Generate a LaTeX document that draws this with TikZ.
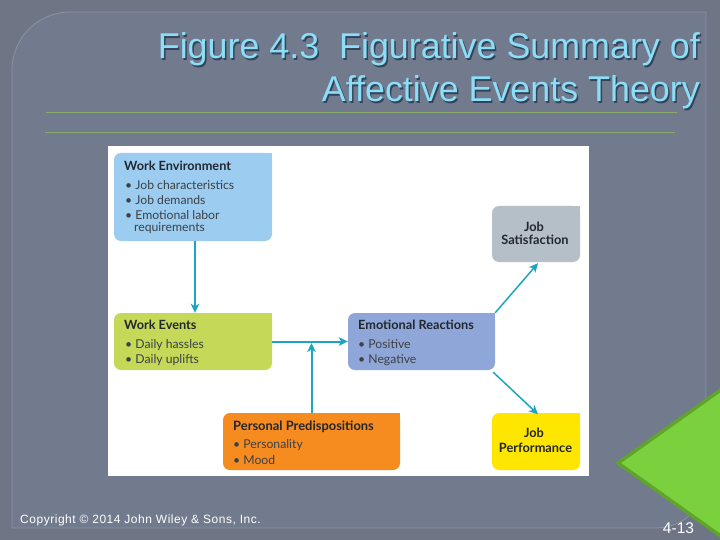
\documentclass[tikz,border=0pt]{standalone}
\usepackage{fontspec}
\setmainfont{Liberation Sans}
\newfontfamily\diag{Lato}
\definecolor{outerbg}{HTML}{6E7686}
\definecolor{innerbg}{HTML}{727B8D}
\definecolor{framec}{HTML}{8A92A4}
\definecolor{rulec}{HTML}{8CAA6C}
\definecolor{titlec}{HTML}{8CDDF6}
\definecolor{shadowc}{HTML}{33435A}
\definecolor{sky}{HTML}{9CCDF0}
\definecolor{lime}{HTML}{C5D858}
\definecolor{periw}{HTML}{8FA7D8}
\definecolor{greyb}{HTML}{B5BFC8}
\definecolor{orangeb}{HTML}{F68B1F}
\definecolor{yellowb}{HTML}{FFE600}
\definecolor{arrowc}{HTML}{1BA5C0}
\definecolor{inkc}{HTML}{22262E}
\definecolor{trifill}{HTML}{7BD13D}
\definecolor{triedge}{HTML}{5FA52C}
\usetikzlibrary{arrows.meta}
\tikzset{
  rbox/.style={rounded corners=7pt,inner sep=0pt,draw=none},
  headt/.style={anchor=base west,inner sep=0pt,font=\diag\bfseries\fontsize{12.7}{13}\selectfont,text=inkc},
  itemt/.style={anchor=base west,inner sep=0pt,font=\diag\fontsize{12.2}{13}\selectfont,text=inkc!88!white},
  goalt/.style={anchor=base,inner sep=0pt,font=\diag\bfseries\fontsize{12.8}{13}\selectfont,text=inkc},
  flow/.style={draw=arrowc,line width=2pt,-{Stealth[length=9pt,width=8.5pt,inset=2.5pt]}},
  thinflow/.style={flow,line width=1.5pt},
  titlet/.style={anchor=base east,inner sep=0pt,font=\fontsize{35.85}{36}\selectfont},
}
\begin{document}
\begin{tikzpicture}[x=1pt,y=-1pt]
\useasboundingbox (0,0) rectangle (720,540);
\fill[outerbg] (0,0) rectangle (720,540);
% inner panel with its big rounded corners
\path[fill=innerbg,draw=framec,line width=.8pt]
  (70,12) -- (706,12) -- (706,480) .. controls (706,505) and (685,528) .. (655,528)
  -- (12,528) -- (12,70) .. controls (12,38) and (38,12) .. (70,12) -- cycle;
% title
\node[titlet,text=shadowc] (titleAs) at (701.5,60.5) {Figure 4.3\ \ Figurative Summary of};
\node[titlet,text=shadowc] (titleBs) at (701.5,103.5) {Affective Events Theory};
\node[titlet,text=titlec] (titleA) at (700,59) {Figure 4.3\ \ Figurative Summary of};
\node[titlet,text=titlec] (titleB) at (700,102) {Affective Events Theory};
\draw[rulec,line width=.9pt] (46,112.5) -- (677,112.5);
\draw[rulec,line width=.9pt] (45,132.5) -- (675,132.5);
% figure sheet
\fill[white] (108,146) rectangle (589,476);
% boxes
\node[rbox,fill=sky,minimum width=158pt,minimum height=88pt] (env) at (193,197) {};
\fill[sky] (env.north east) rectangle ++(-10,10);
\node[rbox,fill=lime,minimum width=158pt,minimum height=57pt] (ev) at (193,341.5) {};
\fill[lime] (ev.north east) rectangle ++(-10,10);
\node[rbox,fill=periw,minimum width=147pt,minimum height=57pt] (emo) at (421.5,341.5) {};
\fill[periw] (emo.north east) rectangle ++(-10,10);
\node[rbox,fill=greyb,minimum width=88pt,minimum height=56pt] (sat) at (536,234) {};
\fill[greyb] (sat.north east) rectangle ++(-10,10);
\node[rbox,fill=yellowb,minimum width=88pt,minimum height=57pt] (perf) at (536,441.5) {};
\fill[yellowb] (perf.north east) rectangle ++(-10,10);
\node[rbox,fill=orangeb,minimum width=177pt,minimum height=57pt] (pers) at (311.5,441.5) {};
\fill[orangeb] (pers.north east) rectangle ++(-10,10);
% connectors
\draw[flow] ([xshift=2pt]env.south) -- ([xshift=2pt]ev.north);
\draw[flow] (ev.east) -- (emo.west);
\draw[flow] (pers.north) -- ([yshift=-1.5pt]pers.north |- ev.east);
\draw[thinflow] (emo.north east) -- ([xshift=2pt,yshift=-1pt]sat.south);
\draw[thinflow] ([xshift=-2pt,yshift=-2pt]emo.south east) -- ([xshift=2pt,yshift=-1.5pt]perf.north);
% box texts
\node[headt] (envh) at (124,171) {Work Environment};
\node[itemt] (enva) at (125,189.5) {• Job characteristics};
\node[itemt] (envb) at (125,204.5) {• Job demands};
\node[itemt] (envc) at (125,219.5) {• Emotional labor};
\node[itemt] (envd) at (134,232) {requirements};
\node[headt] (evh) at (124,329) {Work Events};
\node[itemt] (evb) at (125,348.5) {• Daily hassles};
\node[itemt] (eva) at (125,363.5) {• Daily uplifts};
\node[headt] (emoh) at (358,329) {Emotional Reactions};
\node[itemt] (emoa) at (358,348.5) {• Positive};
\node[itemt] (emob) at (358,363.5) {• Negative};
\node[headt,font=\diag\bfseries\fontsize{12.9}{13}\selectfont] (persh) at (233,430) {Personal Predispositions};
\node[itemt] (persa) at (233,448) {• Personality};
\node[itemt] (persb) at (233,464) {• Mood};
\node[goalt] (sata) at (534,231) {Job};
\node[goalt] (satb) at (535,244) {Satisfaction};
\node[goalt] (perfa) at (534,437) {Job};
\node[goalt] (perfb) at (535.5,452) {Performance};
% footer
\node[anchor=base west,inner sep=0pt,text=white,font=\addfontfeatures{LetterSpace=4.4}\fontsize{12}{14}\selectfont] (copy) at (20,523) {Copyright © 2014 John Wiley \& Sons, Inc.};
% triangle
\path[fill=trifill,draw=triedge,line width=3.5pt,line join=miter] (618,463) -- (722,389) -- (722,537) -- cycle;
\node[anchor=base,inner sep=0pt,text=white,font=\fontsize{15.5}{16}\selectfont] (pg) at (678.5,533.5) {4-13};
\end{tikzpicture}
\end{document}
